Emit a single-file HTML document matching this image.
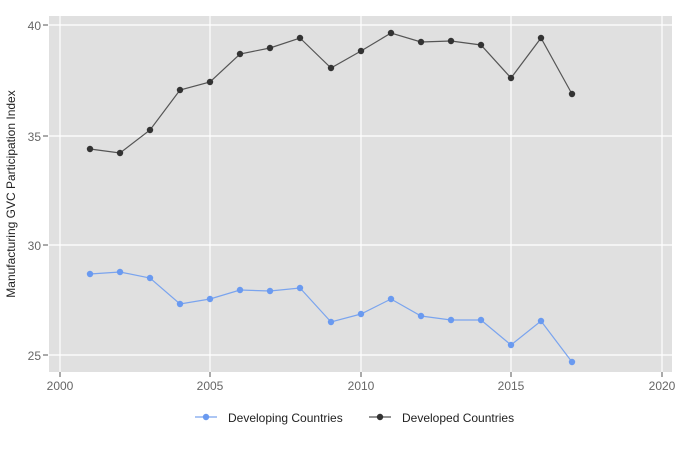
<!DOCTYPE html>
<html><head><meta charset="utf-8"><style>body{margin:0;background:#fff}svg{display:block;font-family:"Liberation Sans",sans-serif}</style></head><body>
<svg width="675" height="452" xmlns="http://www.w3.org/2000/svg">
<rect x="49" y="16" width="623" height="356" fill="#e0e0e0"/>
<g stroke="#fff" stroke-width="1.2">
<line x1="49" x2="672" y1="25" y2="25"/><line x1="49" x2="672" y1="136" y2="136"/><line x1="49" x2="672" y1="245" y2="245"/><line x1="49" x2="672" y1="355" y2="355"/>
<line x1="60" x2="60" y1="16" y2="372"/><line x1="210" x2="210" y1="16" y2="372"/><line x1="361" x2="361" y1="16" y2="372"/><line x1="511" x2="511" y1="16" y2="372"/><line x1="662" x2="662" y1="16" y2="372"/>
</g>
<g stroke="#555" stroke-width="1"><line x1="43" x2="48" y1="25" y2="25"/><line x1="43" x2="48" y1="136" y2="136"/><line x1="43" x2="48" y1="245" y2="245"/><line x1="43" x2="48" y1="355" y2="355"/>
<line x1="60" x2="60" y1="372" y2="377"/><line x1="210" x2="210" y1="372" y2="377"/><line x1="361" x2="361" y1="372" y2="377"/><line x1="511" x2="511" y1="372" y2="377"/><line x1="662" x2="662" y1="372" y2="377"/></g>
<g fill="#666" font-size="12" text-anchor="end"><text x="41" y="30">40</text><text x="41" y="141">35</text><text x="41" y="250">30</text><text x="41" y="360">25</text></g>
<g fill="#666" font-size="12" text-anchor="middle"><text x="60" y="390">2000</text><text x="210" y="390">2005</text><text x="361" y="390">2010</text><text x="511" y="390">2015</text><text x="662" y="390">2020</text></g>
<text transform="translate(15,194) rotate(-90)" font-size="12" fill="#222" text-anchor="middle">Manufacturing GVC Participation Index</text>
<polyline fill="none" stroke="#555" stroke-width="1.2" points="90,149 120,153 150,130 180,90 210,82 240,54 270,48 300,38 331,68 361,51 391,33 421,42 451,41 481,45 511,78 541,38 572,94"/>
<g fill="#333"><circle cx="90" cy="149" r="3.2"/><circle cx="120" cy="153" r="3.2"/><circle cx="150" cy="130" r="3.2"/><circle cx="180" cy="90" r="3.2"/><circle cx="210" cy="82" r="3.2"/><circle cx="240" cy="54" r="3.2"/><circle cx="270" cy="48" r="3.2"/><circle cx="300" cy="38" r="3.2"/><circle cx="331" cy="68" r="3.2"/><circle cx="361" cy="51" r="3.2"/><circle cx="391" cy="33" r="3.2"/><circle cx="421" cy="42" r="3.2"/><circle cx="451" cy="41" r="3.2"/><circle cx="481" cy="45" r="3.2"/><circle cx="511" cy="78" r="3.2"/><circle cx="541" cy="38" r="3.2"/><circle cx="572" cy="94" r="3.2"/></g>
<polyline fill="none" stroke="#7aa4ee" stroke-width="1.2" points="90,274 120,272 150,278 180,304 210,299 240,290 270,291 300,288 331,322 361,314 391,299 421,316 451,320 481,320 511,345 541,321 572,362"/>
<g fill="#6a9af0"><circle cx="90" cy="274" r="3.2"/><circle cx="120" cy="272" r="3.2"/><circle cx="150" cy="278" r="3.2"/><circle cx="180" cy="304" r="3.2"/><circle cx="210" cy="299" r="3.2"/><circle cx="240" cy="290" r="3.2"/><circle cx="270" cy="291" r="3.2"/><circle cx="300" cy="288" r="3.2"/><circle cx="331" cy="322" r="3.2"/><circle cx="361" cy="314" r="3.2"/><circle cx="391" cy="299" r="3.2"/><circle cx="421" cy="316" r="3.2"/><circle cx="451" cy="320" r="3.2"/><circle cx="481" cy="320" r="3.2"/><circle cx="511" cy="345" r="3.2"/><circle cx="541" cy="321" r="3.2"/><circle cx="572" cy="362" r="3.2"/></g>
<line x1="195" x2="217" y1="417" y2="417" stroke="#7aa4ee" stroke-width="1.2"/><circle cx="206" cy="417" r="3.2" fill="#6a9af0"/>
<text x="228" y="422" font-size="12" fill="#222">Developing Countries</text>
<line x1="369" x2="391" y1="417" y2="417" stroke="#555" stroke-width="1.2"/><circle cx="380" cy="417" r="3.2" fill="#333"/>
<text x="402" y="422" font-size="12" fill="#222">Developed Countries</text>
</svg>
</body></html>
